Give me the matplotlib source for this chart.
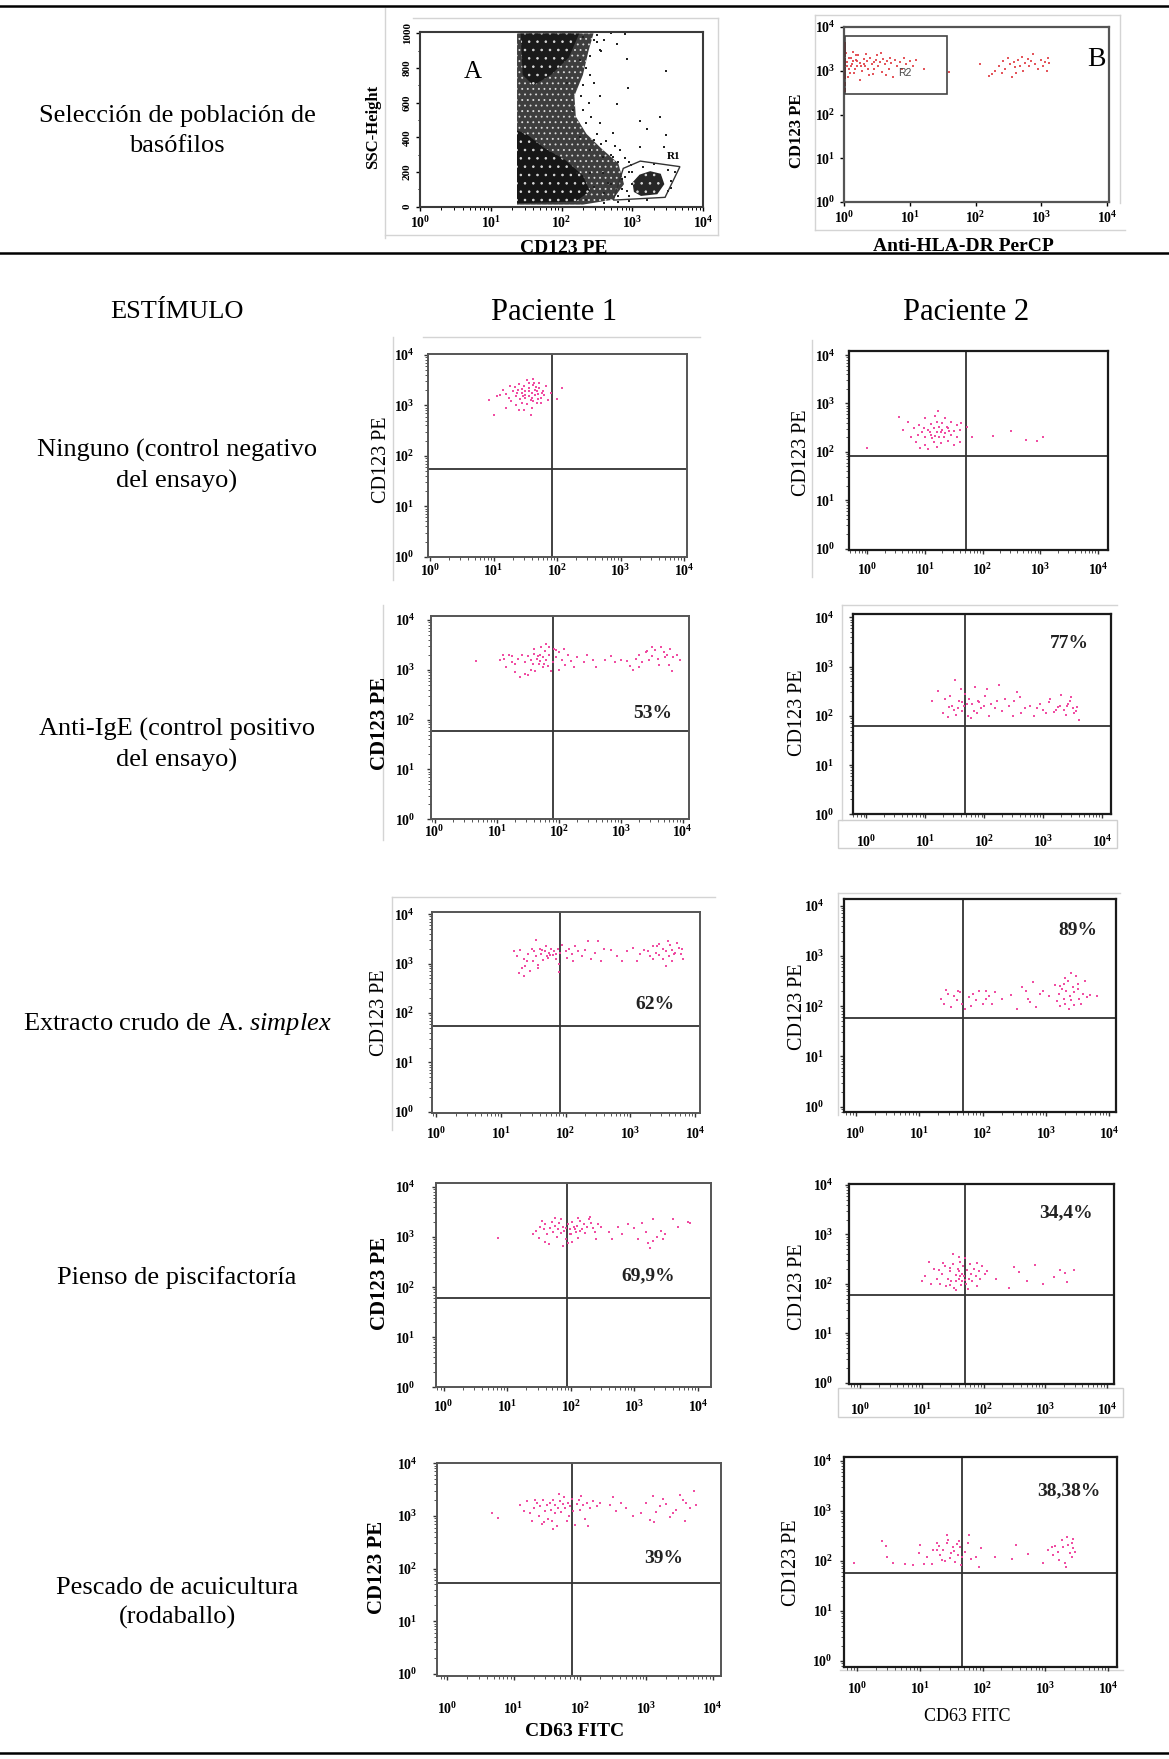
import numpy as np
import matplotlib
matplotlib.use("Agg")
import matplotlib.pyplot as plt
from matplotlib.patches import Polygon, Rectangle
from matplotlib.lines import Line2D
from matplotlib.ticker import LogLocator, NullFormatter, MultipleLocator

plt.rcParams['font.family'] = ['Liberation Serif', 'DejaVu Serif']
plt.rcParams['mathtext.fontset'] = 'custom'
plt.rcParams['mathtext.rm'] = 'Liberation Serif'
plt.rcParams['mathtext.bf'] = 'Liberation Serif:bold'
plt.rcParams['mathtext.it'] = 'Liberation Serif:italic'
plt.rcParams['hatch.linewidth'] = 0.6

# ------------------------------------------------------------------ DATA
ROW_LABELS = ["Selección de población de\nbasófilos",
              "Ninguno (control negativo\ndel ensayo)",
              "Anti-IgE (control positivo\ndel ensayo)",
              r"Extracto crudo de A. $\mathit{simplex}$",
              "Pienso de piscifactoría",
              "Pescado de acuicultura\n(rodaballo)"]
HEADERS = ["ESTÍMULO", "Paciente 1", "Paciente 2"]
DECADE_LABELS = [r'$\mathbf{10^{%d}}$' % k for k in range(5)]
SSC_TICKS = [0, 200, 400, 600, 800, 1000]

PCT_P1 = [None, "53%", "62%", "69,9%", "39%"]
PCT_P2 = [None, "77%", "89%", "34,4%", "38,38%"]
# quadrant gates (log10 CD63, log10 CD123)
QUAD_P1 = [(1.92, 1.73), (1.91, 1.77), (1.91, 1.74), (1.94, 1.79), (1.88, 1.73)]
QUAD_P2 = [(1.71, 1.92), (1.68, 1.79), (1.69, 1.77), (1.70, 1.77), (1.68, 1.75)]

# events, (log10 CD63 FITC, log10 CD123 PE)
P1_NINGUNO = [(1.45,3.25),(1.5,3.2),(1.55,3.28),(1.6,3.15),(1.65,3.3),(1.7,3.22),(1.58,3.1),(1.42,3.12),
    (1.38,3.3),(1.48,3.38),(1.62,3.4),(1.72,3.35),(1.75,3.15),(1.68,3.05),(1.52,3.02),(1.35,3.18),(1.3,3.28),
    (1.25,3.38),(1.2,3.22),(1.4,3.42),(1.55,3.45),(1.78,3.28),(1.8,3.2),(1.82,3.38),(1.6,3.25),(1.5,3.15),
    (1.65,3.2),(1.7,3.12),(1.45,3.05),(1.35,3.0),(1.28,3.08),(1.15,3.3),(1.1,3.2),(1.6,2.95),(1.48,2.9),
    (1.58,2.82),(1.4,2.9),(1.72,3.45),(1.52,3.5),(1.62,3.52),(1.85,3.1),(1.9,3.25),(1.55,3.35),(1.44,3.32),
    (1.66,3.36),(1.76,3.24),(1.34,3.36),(1.24,3.15),(1.05,3.18),(0.92,3.1),(1.0,2.82),(2.08,3.35),(2.0,3.12),
    (1.2,2.95),(1.5,3.28),(1.62,3.08),(1.56,3.18),(1.68,3.28),(1.46,3.18),(1.74,3.05),(1.36,3.24),(1.64,3.44)]
P1_ANTIIGE = [(1.75,3.25),(1.7,3.3),(1.8,3.2),(1.65,3.22),(1.85,3.3),(1.9,3.15),(1.6,3.32),(1.55,3.2),
    (1.5,3.28),(1.78,3.38),(1.68,3.12),(1.82,3.08),(1.95,3.25),(2.0,3.35),(2.05,3.2),(2.1,3.1),(1.45,3.15),
    (1.4,3.3),(1.35,3.22),(1.3,3.12),(1.25,3.28),(1.2,3.3),(1.1,3.3),(1.05,3.2),(1.15,3.05),(1.3,2.95),
    (1.45,2.92),(1.55,3.0),(1.62,2.98),(1.75,3.05),(1.88,2.98),(2.0,3.0),(1.72,3.45),(1.6,3.42),(1.85,3.45),
    (1.92,3.42),(2.15,3.3),(2.2,3.18),(2.3,3.25),(2.4,3.15),(2.45,3.3),(2.55,3.2),(2.6,3.05),(1.38,2.85),
    (1.5,2.9),(1.7,3.18),(1.76,3.12),(1.66,3.28),(1.58,3.12),(1.95,3.4),(1.8,3.52),(2.08,3.42),(1.25,3.15),
    (1.12,3.22),(2.25,3.05),(2.75,3.2),(2.9,3.15),(3.0,3.2),(3.1,3.18),(2.85,3.28),(3.15,3.08),(3.3,3.3),
    (3.4,3.35),(3.5,3.28),(3.55,3.4),(3.6,3.22),(3.7,3.35),(3.75,3.3),(3.8,3.42),(3.85,3.25),(3.45,3.2),
    (3.35,3.15),(3.25,3.22),(3.65,3.45),(3.9,3.3),(3.95,3.2),(3.78,3.1),(3.62,3.1),(3.5,3.45),(3.82,2.98),
    (3.3,3.05),(3.2,3.0),(3.42,3.38),(3.72,3.25),(0.67,3.18)]
P1_ANISAKIS = [(1.2,3.25),(1.25,3.15),(1.3,3.28),(1.35,3.1),(1.38,2.95),(1.42,3.2),(1.45,2.85),(1.5,3.05),
    (1.52,3.25),(1.55,3.15),(1.58,2.98),(1.6,3.3),(1.62,3.2),(1.65,3.08),(1.68,3.25),(1.7,3.35),(1.72,3.15),
    (1.75,3.22),(1.78,3.3),(1.8,3.18),(1.82,3.25),(1.85,3.1),(1.86,3.2),(1.88,3.3),(1.9,3.0),(1.9,2.82),
    (1.92,3.22),(1.95,3.38),(2.0,3.25),(2.02,3.12),(2.05,3.3),(2.1,3.2),(2.12,3.05),(2.15,3.35),(2.2,3.25),
    (2.25,3.15),(2.3,3.28),(2.35,3.45),(2.4,3.1),(2.45,3.22),(2.5,3.45),(2.55,3.05),(2.6,3.3),(1.48,3.3),
    (1.58,2.92),(1.4,3.05),(1.32,2.92),(1.55,3.48),(1.28,2.8),(1.35,2.75),(1.73,3.12),(1.64,3.28),(1.76,3.18),
    (2.7,3.28),(2.8,3.15),(2.88,3.05),(2.95,3.25),(3.05,3.32),(3.1,3.05),(3.15,3.2),(3.22,3.28),(3.28,3.25),
    (3.3,3.15),(3.35,3.35),(3.4,3.22),(3.45,3.4),(3.5,3.3),(3.55,3.25),(3.6,3.15),(3.62,3.38),(3.65,3.28),
    (3.7,3.22),(3.72,3.42),(3.75,3.32),(3.78,3.2),(3.8,3.3),(3.65,3.05),(3.5,3.1),(3.42,3.35),(3.58,3.45),
    (3.68,3.2),(3.55,2.95),(3.82,3.1),(3.45,3.18),(3.35,3.1)]
P1_PIENSO = [(1.4,3.05),(1.45,3.12),(1.5,2.98),(1.52,3.2),(1.58,3.15),(1.6,3.25),(1.62,3.05),(1.65,2.85),
    (1.68,3.18),(1.7,3.3),(1.72,3.1),(1.75,3.22),(1.78,3.0),(1.8,3.15),(1.82,3.28),(1.85,3.08),(1.88,3.2),
    (1.9,3.12),(1.92,2.95),(1.95,3.25),(1.98,3.15),(2.0,3.05),(2.02,3.3),(2.05,3.2),(2.08,3.1),(2.1,3.22),
    (2.12,2.98),(2.15,3.32),(2.18,3.15),(2.2,3.25),(2.22,3.08),(2.25,3.2),(2.28,3.35),(2.32,3.28),(2.35,3.18),
    (2.38,3.1),(2.42,3.25),(2.48,3.2),(1.88,2.82),(1.95,2.88),(2.02,2.9),(1.75,3.38),(1.85,3.35),(2.12,3.38),
    (2.3,3.4),(2.4,2.95),(1.55,3.32),(1.6,2.9),(1.98,3.05),(2.06,3.15),(1.93,3.18),(2.14,3.12),(2.6,3.1),
    (2.65,2.95),(2.75,3.2),(2.8,3.05),(2.9,3.25),(3.0,3.18),(3.05,2.95),(3.12,3.28),(3.18,3.1),(3.22,2.88),
    (3.25,2.78),(3.3,3.35),(3.35,3.0),(3.42,3.12),(3.48,3.05),(3.6,3.35),(3.68,3.2),(3.85,3.3),(3.88,3.28),
    (3.3,2.92),(3.45,2.95),(0.86,2.97)]
P1_PESCADO = [(1.1,3.2),(1.15,3.1),(1.2,3.28),(1.25,3.05),(1.28,2.9),(1.3,3.15),(1.35,3.25),(1.38,3.0),
    (1.4,3.18),(1.42,2.85),(1.45,3.3),(1.48,3.1),(1.5,3.2),(1.52,2.95),(1.55,3.25),(1.57,3.12),(1.6,3.3),
    (1.62,3.05),(1.63,3.2),(1.65,2.8),(1.67,3.15),(1.7,3.28),(1.72,3.08),(1.74,3.22),(1.76,3.35),(1.78,3.15),
    (1.8,2.9),(1.82,3.25),(1.85,3.18),(1.88,3.32),(1.9,3.1),(1.92,2.82),(1.95,3.22),(1.98,3.3),(2.0,3.12),
    (2.02,3.38),(2.05,3.2),(2.08,2.95),(2.1,3.25),(2.12,2.8),(2.15,3.15),(2.2,3.28),(2.25,3.18),(2.3,3.25),
    (1.58,2.9),(1.46,2.88),(1.68,3.42),(1.84,3.0),(1.32,3.3),(1.6,2.76),(2.45,3.2),(2.5,3.35),(2.55,3.1),
    (2.62,3.25),(2.7,3.15),(2.8,3.0),(2.92,3.05),(3.0,3.25),(3.05,2.92),(3.1,3.38),(3.15,3.08),(3.2,3.18),
    (3.25,3.32),(3.3,3.22),(3.35,2.98),(3.4,3.05),(3.45,3.12),(3.5,3.4),(3.55,3.3),(3.6,3.25),(3.65,3.15),
    (3.72,3.48),(3.75,3.2),(3.58,2.9),(3.12,2.88),(0.68,3.05),(0.77,2.96)]

P2_NINGUNO = [(1.2,2.4),(1.1,2.35),(1.3,2.45),(1.15,2.5),(1.25,2.3),(1.35,2.38),(1.05,2.45),(0.95,2.4),
    (1.0,2.3),(1.4,2.5),(1.45,2.35),(1.5,2.42),(1.55,2.3),(1.6,2.45),(1.3,2.6),(1.2,2.62),(1.1,2.58),(0.9,2.55),
    (0.8,2.5),(0.7,2.62),(0.62,2.45),(0.75,2.3),(0.85,2.2),(1.0,2.15),(1.15,2.2),(1.28,2.18),(1.4,2.22),
    (1.2,2.1),(1.05,2.05),(0.92,2.08),(1.35,2.7),(1.18,2.75),(1.0,2.7),(1.45,2.62),(1.55,2.55),(1.6,2.2),
    (1.5,2.15),(1.22,2.85),(1.38,2.52),(1.08,2.4),(1.25,2.52),(1.32,2.3),(0.98,2.5),(0.88,2.35),(1.42,2.42),
    (1.18,2.32),(1.28,2.4),(1.12,2.28),(0.55,2.72),(1.62,2.6),(1.72,2.52),(1.81,2.31),(2.18,2.32),(2.5,2.43),
    (2.76,2.24),(2.94,2.22),(3.05,2.3),(0.0,2.07)]
P2_ANTIIGE = [(1.12,2.3),(1.22,2.5),(1.3,2.05),(1.38,1.98),(1.42,2.4),(1.45,2.2),(1.48,2.12),(1.5,2.72),
    (1.52,2.02),(1.55,2.15),(1.58,2.3),(1.6,2.55),(1.63,2.1),(1.65,2.2),(1.68,2.45),(1.72,2.0),(1.75,2.35),
    (1.78,1.95),(1.8,2.25),(1.82,2.1),(1.85,2.58),(1.88,2.05),(1.9,2.3),(1.95,2.15),(2.0,2.2),(2.05,2.55),
    (2.08,2.0),(2.12,2.25),(2.18,2.15),(2.22,2.3),(2.3,2.1),(2.35,2.35),(2.42,2.2),(2.48,2.0),(2.55,2.48),
    (2.6,2.38),(2.62,2.05),(2.7,2.15),(2.78,2.2),(2.85,2.0),(2.9,2.15),(2.95,2.25),(3.0,2.12),(3.05,2.05),
    (3.1,2.28),(3.12,2.35),(3.18,2.08),(3.22,2.12),(3.28,2.2),(3.3,2.42),(3.35,2.12),(3.38,2.02),(3.4,2.2),
    (3.45,2.3),(3.48,2.38),(3.5,2.15),(3.52,2.05),(3.55,2.1),(3.58,2.18),(3.6,1.92),(3.42,2.25),(3.25,2.18),
    (2.02,2.4),(1.7,2.25),(1.4,2.18),(1.33,2.35),(2.25,2.62),(1.62,2.28),(1.92,2.28),(2.5,2.3)]
P2_ANISAKIS = [(1.35,2.15),(1.4,2.05),(1.45,2.25),(1.5,1.98),(1.55,2.2),(1.6,2.12),(1.65,2.28),(1.68,2.05),
    (1.72,1.95),(1.78,2.18),(1.82,2.0),(1.85,2.25),(1.9,2.12),(1.95,2.3),(2.0,2.05),(2.05,2.15),(2.1,2.2),
    (2.15,2.05),(2.2,2.28),(2.3,2.15),(2.45,2.22),(2.55,1.95),(2.62,2.38),(2.68,2.3),(2.72,2.15),(2.75,2.08),
    (2.8,2.48),(2.85,1.98),(2.95,2.3),(3.05,2.2),(3.15,2.42),(3.18,2.1),(3.2,2.25),(3.22,2.0),(3.25,2.35),
    (3.28,2.15),(3.3,2.05),(3.32,2.3),(3.35,2.5),(3.38,2.2),(3.4,2.12),(3.42,2.38),(3.45,2.28),(3.48,2.6),
    (3.5,2.45),(3.52,2.15),(3.55,2.05),(3.58,2.25),(3.62,2.5),(3.65,2.18),(3.7,2.22),(3.8,2.2),(3.28,2.45),
    (3.36,1.95),(3.44,2.02),(3.3,2.55),(3.5,2.35),(3.22,2.4),(3.4,2.65),(2.9,2.25),(1.62,2.3),(1.42,2.32),
    (2.05,2.3)]
P2_PIENSO = [(1.0,2.05),(1.05,2.15),(1.12,2.45),(1.2,2.3),(1.25,2.1),(1.3,2.0),(1.32,2.2),(1.38,2.35),
    (1.4,1.95),(1.42,2.1),(1.45,2.25),(1.48,2.05),(1.5,2.4),(1.52,1.92),(1.55,2.18),(1.58,2.3),(1.6,2.1),
    (1.6,2.25),(1.62,2.45),(1.63,1.98),(1.65,2.2),(1.65,2.05),(1.67,2.35),(1.68,2.15),(1.7,2.52),(1.72,2.0),
    (1.74,2.28),(1.76,2.1),(1.78,2.4),(1.8,2.2),(1.82,2.05),(1.85,2.3),(1.88,2.15),(1.9,1.95),(1.92,2.25),
    (1.95,2.1),(1.98,2.35),(2.02,2.2),(2.05,2.25),(1.56,1.88),(1.46,2.32),(1.35,2.42),(1.6,2.55),(1.7,2.08),
    (1.55,2.05),(1.62,2.15),(1.28,2.28),(1.15,2.0),(1.5,2.6),(1.75,1.9),(1.9,2.42),(1.45,1.98),(2.49,2.34),
    (2.57,2.24),(2.42,1.91),(2.7,2.06),(2.84,2.38),(2.97,1.99),(3.14,2.14),(3.24,2.28),(3.35,2.04),(3.46,2.28),
    (2.2,2.09),(3.32,2.21)]
P2_PESCADO = [(-0.05,1.96),(0.39,2.39),(0.46,2.29),(0.47,2.08),(0.57,1.96),(0.76,1.93),(0.89,1.91),(1.0,2.31),
    (0.99,2.16),(1.06,1.93),(1.11,2.08),(1.19,1.93),(1.21,2.21),(1.27,2.21),(1.27,2.35),(1.32,2.11),(1.35,2.01),
    (1.37,2.21),(1.43,2.35),(1.45,2.41),(1.48,2.05),(1.5,2.15),(1.53,2.28),(1.56,1.98),(1.59,2.33),(1.61,2.11),
    (1.64,2.28),(1.66,1.91),(1.68,2.07),(1.72,2.18),(1.77,2.35),(1.79,2.51),(1.82,2.03),(1.9,2.08),(1.95,1.88),
    (1.97,2.25),(2.2,2.07),(2.47,2.03),(2.53,2.31),(2.73,2.13),(2.97,1.95),(3.05,2.21),(3.1,2.28),(3.13,2.11),
    (3.16,2.29),(3.21,2.18),(3.22,2.01),(3.26,2.41),(3.28,2.28),(3.31,1.95),(3.33,1.88),(3.34,2.48),(3.37,2.31),
    (3.39,2.15),(3.42,2.07),(3.44,2.25),(3.45,2.43),(3.47,2.18),(3.42,2.35),(1.43,2.51),(1.55,2.2),(1.4,2.0),
    (1.62,2.4),(1.3,2.3)]
P1_PTS = [P1_NINGUNO, P1_ANTIIGE, P1_ANISAKIS, P1_PIENSO, P1_PESCADO]
P2_PTS = [P2_NINGUNO, P2_ANTIIGE, P2_ANISAKIS, P2_PIENSO, P2_PESCADO]

# Panel A (log10 CD123 PE, SSC-Height): density regions, sparse events, R1 gate
A_CLOUD = [(1.37,12),(1.37,1000),(2.45,1000),(2.38,900),(2.3,760),(2.18,640),(2.2,520),(2.35,420),
           (2.55,340),(2.8,250),(2.88,130),(2.72,40),(2.3,12)]
A_CORE_LOW = [(1.37,20),(1.37,440),(1.5,420),(1.75,340),(2.05,270),(2.3,180),(2.4,90),(2.2,30)]
A_CORE_TOP = [(1.42,1000),(1.45,760),(1.6,700),(1.85,760),(2.1,860),(2.25,1000)]
A_R1_CLUSTER = [(3.02,85),(3.12,62),(3.35,72),(3.45,130),(3.4,190),(3.25,205),(3.1,185),(3.0,140)]
A_SPARSE = [(2.78,937),(2.92,852),(3.48,783),(2.94,687),(2.78,590),(3.11,496),(3.48,415),(3.2,446),
            (2.54,638),(2.45,712),(3.11,346),(2.54,481),(2.73,423),(2.4,327),(3.44,346),(2.21,192),
            (2.59,192),(2.35,38),(3.39,519),(2.82,327),(2.66,135),(2.45,115),(2.73,288),(2.26,404),
            (2.16,558),(2.07,712),(2.26,846),(2.54,904),(2.45,385),(2.59,288),(2.4,192),(2.85,100),
            (2.9,170),(3.0,200),(2.95,60),(3.55,150),(3.5,90),(2.8,60),(2.7,130),(3.6,200),(2.6,80),
            (2.95,260),(2.3,980),(2.5,990),(2.7,1000),(2.9,995),(2.5,950),(2.4,870),(2.35,800),(2.3,700),
            (2.28,640),(2.3,560),(2.35,480),(2.5,420),(2.55,360),(2.7,300),(2.8,260),(2.95,200),(3.0,130),
            (2.95,30),(2.8,25),(2.6,20),(2.45,960),(2.55,900),(2.4,760),(2.38,600),(2.42,520),(2.62,380),
            (2.75,350),(2.9,280),(2.98,240),(3.05,100),(2.6,960),(2.85,160),(3.15,230),(3.3,245),(3.5,210),
            (3.55,110),(2.92,90),(3.2,40)]
R1_GATE = [(2.73,38),(2.87,221),(3.11,263),(3.67,231),(3.46,54)]

# Panel B (log10 Anti-HLA-DR PerCP, log10 CD123 PE)
B_EVENTS = [(0.05,3.2),(0.08,3.05),(0.1,3.3),(0.12,3.15),(0.15,2.95),(0.18,3.25),(0.2,3.1),(0.22,3.35),
    (0.25,3.18),(0.28,3.0),(0.3,3.28),(0.32,3.12),(0.35,3.22),(0.38,2.9),(0.4,3.3),(0.42,3.15),(0.45,3.05),
    (0.48,3.25),(0.5,3.35),(0.52,3.1),(0.55,3.2),(0.58,2.98),(0.6,3.28),(0.62,3.15),(0.65,3.22),(0.68,3.05),
    (0.7,3.3),(0.72,3.18),(0.75,2.85),(0.78,3.25),(0.8,3.12),(0.85,3.2),(0.88,3.05),(0.92,3.3),(0.95,3.15),
    (1.0,3.22),(1.05,3.1),(1.1,3.25),(0.03,3.4),(0.06,2.85),(0.14,3.42),(0.24,2.8),(0.34,3.38),(0.44,2.92),
    (0.57,3.4),(0.64,2.9),(1.22,3.05),(0.2,3.22),(0.1,3.12),(0.3,3.15),(1.6,2.98),(2.07,3.15),(2.2,2.88),
    (2.25,2.92),(2.3,3.0),(2.35,3.1),(2.42,3.22),(2.45,3.05),(2.5,3.3),(2.52,3.15),(2.55,2.85),(2.58,3.2),
    (2.6,3.08),(2.65,3.25),(2.68,3.12),(2.7,3.32),(2.72,3.0),(2.75,3.18),(2.8,3.28),(2.82,3.1),(2.85,3.22),
    (2.88,3.38),(2.9,3.15),(2.95,3.05),(3.0,3.25),(3.02,3.12),(3.05,3.2),(3.08,3.0),(3.1,3.3),(2.62,2.95),
    (2.4,2.95),(3.12,3.18),(0.04,3.1),(0.07,3.3),(0.09,2.95),(0.13,3.22),(0.16,3.05),(0.19,3.35),(0.26,3.1),
    (0.36,3.05),(0.46,3.2)]
B_EDGE = [2.55, 2.7, 2.85, 2.95, 3.05, 3.15, 3.25, 3.35, 3.45, 3.55, 3.62]
R2_GATE = (0.0, 1.57, 2.48, 3.79)

# ------------------------------------------------------------------ LAYOUT
W, H = 1169, 1759
fig = plt.figure(figsize=(W / 100, H / 100), dpi=100)
MAG = '#f0449e'
TICK_FS = 10


def px_ax(L, T, R, B):
    return fig.add_axes([L / W, 1 - B / H, (R - L) / W, (B - T) / H])


def ftext(x, y, s, **kw):
    return fig.text(x / W, 1 - y / H, s, **kw)


def fline(x0, y0, x1, y1, **kw):
    fig.add_artist(Line2D([x0 / W, x1 / W], [1 - y0 / H, 1 - y1 / H], transform=fig.transFigure, **kw))


def frect(x0, y0, x1, y1, **kw):
    fig.add_artist(Rectangle((x0 / W, 1 - y1 / H), (x1 - x0) / W, (y1 - y0) / H,
                             transform=fig.transFigure, **kw))


def L10(v):
    return 10.0 ** np.asarray(v, dtype=float)


def style_log_axis(axis):
    axis.set_minor_locator(LogLocator(base=10, subs=np.arange(2, 10)))
    axis.set_minor_formatter(NullFormatter())


def bold_ticklabels(ax, size):
    for lab in ax.get_xticklabels() + ax.get_yticklabels():
        lab.set_fontsize(size)
        lab.set_fontweight('bold')


# faint borders of the pasted cytometer images
FAINT = dict(color='#d4d4d4', lw=1.0, zorder=0)
for seg in [(385, 8, 385, 238), (413, 18, 718, 18), (718, 18, 718, 235), (385, 235, 718, 235),
            (815, 15, 815, 230), (815, 15, 1120, 15), (1120, 15, 1120, 203), (815, 230, 1125, 230),
            (393, 337, 393, 580), (423, 337, 700, 337), (812, 340, 812, 577),
            (383, 605, 383, 840), (842, 605, 842, 820), (842, 605, 1117, 605),
            (392, 897, 392, 1130), (392, 897, 715, 897), (838, 893, 1120, 893), (838, 893, 838, 1115),
            (840, 1670, 1123, 1670)]:
    fline(*seg, **FAINT)
frect(838, 820, 1117, 848, facecolor='none', edgecolor='#cfcfcf', lw=1.0, zorder=0)
frect(838, 1388, 1123, 1417, facecolor='none', edgecolor='#cfcfcf', lw=1.0, zorder=0)

# ---------------- panel A
axA = px_ax(420, 32.3, 703.3, 206.7)
axA.set_xscale('log')
axA.set_xlim(1, 1e4)
axA.set_ylim(0, 1006)
for poly, fc, hat in [(A_CLOUD, '#3e3e3e', '...'), (A_CORE_LOW, '#161616', '..'),
                      (A_CORE_TOP, '#1a1a1a', '..'), (A_R1_CLUSTER, '#262626', '..')]:
    xy = np.column_stack([L10([p[0] for p in poly]), [p[1] for p in poly]])
    axA.add_patch(Polygon(xy, closed=True, facecolor=fc, edgecolor='#dddddd', lw=0,
                          hatch=hat, zorder=1))
axA.scatter(L10([p[0] for p in A_SPARSE]), [p[1] for p in A_SPARSE], s=3, c='#222222', marker='s',
            linewidths=0, zorder=2)
g = np.column_stack([L10([p[0] for p in R1_GATE]), [p[1] for p in R1_GATE]])
axA.add_patch(Polygon(g, closed=True, facecolor='none', edgecolor='#333333', lw=1.0, zorder=3))
axA.text(10 ** 3.58, 290, 'R1', fontsize=8, fontweight='bold', ha='center', va='center', zorder=4)
axA.set_xticks(L10(range(5)), DECADE_LABELS)
style_log_axis(axA.xaxis)
axA.set_yticks(SSC_TICKS, [str(v) for v in SSC_TICKS])
axA.yaxis.set_minor_locator(MultipleLocator(100))
for lab in axA.get_yticklabels():
    lab.set_rotation(90)
    lab.set_va('center')
axA.tick_params(which='major', direction='out', length=3, width=1, pad=3)
axA.tick_params(which='minor', direction='out', length=1.8, width=0.7)
bold_ticklabels(axA, 8)
for lab in axA.get_xticklabels():
    lab.set_fontsize(TICK_FS)
for sp in axA.spines.values():
    sp.set_color('#3a3a3a')
    sp.set_linewidth(1.5)
ftext(473, 72, 'A', fontsize=18, ha='center', va='center')
ftext(373, 127, 'SSC-Height', fontsize=12, fontweight='bold', rotation=90, ha='center', va='center')
ftext(564, 240, 'CD123 PE', fontsize=14, fontweight='bold', ha='center', va='top')

# ---------------- panel B
axB = px_ax(844, 27, 1109, 202)
axB.set_xscale('log')
axB.set_yscale('log')
axB.set_xlim(1, 10 ** 4.03)
axB.set_ylim(1, 10 ** 3.99)
axB.scatter(L10([p[0] for p in B_EVENTS]), L10([p[1] for p in B_EVENTS]), s=3.5, c='#e0383f',
            marker='s', linewidths=0, alpha=0.85, zorder=2)
axB.scatter(L10([0.004] * len(B_EDGE)), L10(B_EDGE), s=6, c='#a01818', marker='s', linewidths=0, zorder=3)
x0, x1, y0, y1 = R2_GATE
rx = L10([x0 + 0.01, x1, x1, x0 + 0.01])
ry = L10([y0, y0, y1, y1])
axB.add_patch(Polygon(np.column_stack([rx, ry]), closed=True, facecolor='none', edgecolor='#444444',
                      lw=1.2, zorder=3))
axB.text(10 ** 0.92, 10 ** 2.95, 'R2', fontsize=7.5, family='Liberation Sans', color='#444444',
         ha='center', va='center', zorder=4)
axB.set_xticks(L10(range(5)), DECADE_LABELS)
axB.set_yticks(L10(range(5)), DECADE_LABELS)
style_log_axis(axB.xaxis)
style_log_axis(axB.yaxis)
axB.tick_params(which='major', direction='out', length=3, width=1, pad=3)
axB.tick_params(which='minor', length=0)
bold_ticklabels(axB, TICK_FS)
for sp in axB.spines.values():
    sp.set_color('#555555')
    sp.set_linewidth(1.6)
ftext(1096, 60, 'B', fontsize=20, ha='center', va='center')
ftext(797, 131, 'CD123 PE', fontsize=12, fontweight='bold', rotation=90, ha='center', va='center')
ftext(963, 238, 'Anti-HLA-DR PerCP', fontsize=14, fontweight='bold', ha='center', va='top')

# ---------------- stimulation panels
P1_SPECS = [
    dict(rect=(428.3, 354, 687.3, 556.7), xlim=(-0.03, 4.05), ylim=(0, 4.02), pct=None,
         ylab=(382, 460, False), xpad=1.5, ypad=7),
    dict(rect=(431, 616, 689, 819.3), xlim=(-0.06, 4.10), ylim=(0, 4.08), pct=(3.52, 2.13),
         ylab=(380, 723, True), xpad=0.5, ypad=8),
    dict(rect=(431.7, 911.7, 700, 1113.3), xlim=(-0.07, 4.08), ylim=(-0.03, 4.05), pct=(3.39, 2.18),
         ylab=(380, 1013, False), xpad=6, ypad=9.5),
    dict(rect=(436, 1183.3, 710.7, 1387.3), xlim=(-0.12, 4.2), ylim=(0, 4.07), pct=(3.22, 2.22),
         ylab=(380, 1283, True), xpad=5.5, ypad=11.5),
    dict(rect=(437.3, 1462.7, 720.7, 1676), xlim=(-0.15, 4.12), ylim=(-0.04, 4.01), pct=(3.26, 2.2),
         ylab=(377, 1567, True), xpad=15, ypad=11.5),
]
P2_SPECS = [
    dict(rect=(849, 350.7, 1108.3, 550), xlim=(-0.32, 4.18), ylim=(-0.03, 4.09), pct=None,
         ylab=(802, 453, False), xpad=5.5, ypad=6.5),
    dict(rect=(852.7, 614, 1111, 814.3), xlim=(-0.23, 4.15), ylim=(0, 4.07), pct=(3.45, 3.47),
         ylab=(797, 713, False), xpad=11, ypad=10),
    dict(rect=(844.3, 899, 1115.7, 1112.3), xlim=(-0.18, 4.1), ylim=(-0.11, 4.13), pct=(3.5, 3.5),
         ylab=(797, 1007, False), xpad=7, ypad=11.5),
    dict(rect=(849, 1184, 1114.3, 1384), xlim=(-0.18, 4.12), ylim=(-0.03, 4.02), pct=(3.34, 3.43),
         ylab=(797, 1287, False), xpad=10, ypad=8),
    dict(rect=(844, 1457.3, 1116.7, 1666.7), xlim=(-0.21, 4.14), ylim=(-0.12, 4.07), pct=(3.38, 3.41),
         ylab=(792, 1563, False), xpad=7.5, ypad=5),
]


def cyto_panel(spec, pts, quad, pct, spine_color, spine_lw):
    ax = px_ax(*spec['rect'])
    ax.set_xscale('log')
    ax.set_yscale('log')
    ax.set_xlim(10 ** spec['xlim'][0], 10 ** spec['xlim'][1])
    ax.set_ylim(10 ** spec['ylim'][0], 10 ** spec['ylim'][1])
    ax.set_xticks(L10(range(5)), DECADE_LABELS)
    ax.set_yticks(L10(range(5)), DECADE_LABELS)
    style_log_axis(ax.xaxis)
    style_log_axis(ax.yaxis)
    ax.tick_params(which='major', direction='out', length=3, width=1, color='#333333')
    ax.tick_params(which='minor', direction='out', length=2, width=0.7, color='#555555')
    ax.tick_params(axis='x', which='major', pad=spec['xpad'])
    ax.tick_params(axis='y', which='major', pad=spec['ypad'])
    bold_ticklabels(ax, TICK_FS)
    for sp in ax.spines.values():
        sp.set_color(spine_color)
        sp.set_linewidth(spine_lw)
    ax.axvline(10 ** quad[0], color='#333333', lw=1.3, zorder=2)
    ax.axhline(10 ** quad[1], color='#333333', lw=1.3, zorder=2)
    ax.scatter(L10([p[0] for p in pts]), L10([p[1] for p in pts]), s=4.5, c=MAG, marker='s',
               linewidths=0, alpha=0.95, zorder=3)
    if pct is not None:
        ax.text(10 ** spec['pct'][0], 10 ** spec['pct'][1], pct, fontsize=14, fontweight='bold',
                color='#222222', ha='center', va='center', zorder=4)
    x, y, bold = spec['ylab']
    ftext(x, y, 'CD123 PE', fontsize=15 if bold else 14.5, fontweight='bold' if bold else 'normal',
          rotation=90, ha='center', va='center')
    return ax


for i in range(5):
    cyto_panel(P1_SPECS[i], P1_PTS[i], QUAD_P1[i], PCT_P1[i], '#555555', 1.4)
    cyto_panel(P2_SPECS[i], P2_PTS[i], QUAD_P2[i], PCT_P2[i], '#1a1a1a', 1.6)

ftext(575, 1723, 'CD63 FITC', fontsize=14, fontweight='bold', ha='center', va='top')
ftext(967, 1708, 'CD63 FITC', fontsize=13, ha='center', va='top')

# ---------------- table text
ftext(177, 312, HEADERS[0], fontsize=19, ha='center', va='center')
ftext(554, 312, HEADERS[1], fontsize=22, ha='center', va='center')
ftext(966, 312, HEADERS[2], fontsize=22, ha='center', va='center')
for lab, yc in zip(ROW_LABELS, [131, 466, 745, 1024, 1278, 1603]):
    ftext(177, yc, lab, fontsize=19, ha='center', va='center', linespacing=1.42)

# clipped captions under rules
frect(0, 253.5, W, 266, facecolor='white', edgecolor='none', zorder=10)
frect(840, 1723, W, 1750, facecolor='white', edgecolor='none', zorder=10)
for yl in (5.5, 253, 1753):
    fline(0, yl, W, yl, color='black', lw=1.8, zorder=11)

fig.savefig('out.png', dpi=100)
